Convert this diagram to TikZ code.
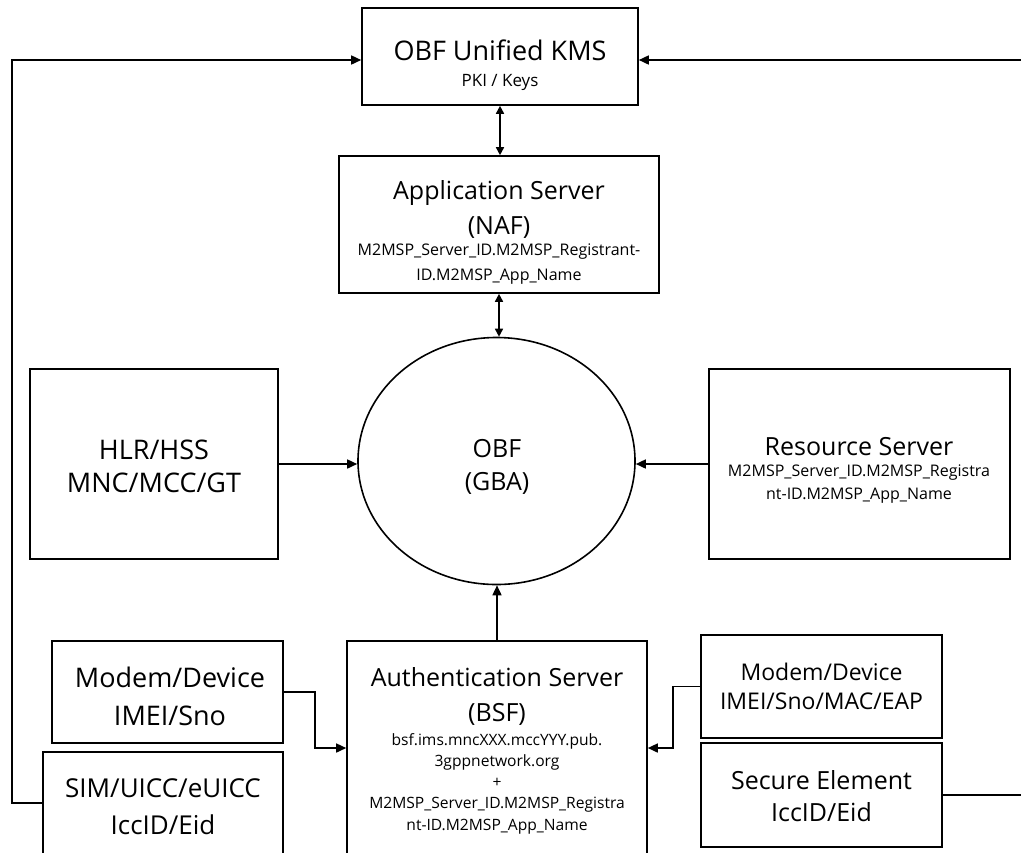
\documentclass[tikz,border=0pt]{standalone}
\usepackage{fontspec}
\setmainfont{Open Sans}
\usetikzlibrary{arrows.meta,shapes.geometric}
\begin{document}
\begin{tikzpicture}[x=0.5pt,y=-0.5pt,
	blk/.style={draw,line width=0.8pt,inner sep=0,minimum width=#1},
	txt/.style={align=center,inner sep=0},
	big/.style={txt,font=\fontsize{12.5}{17.5}\selectfont},
	sml/.style={txt,font=\fontsize{8}{12.5}\selectfont},
	arr/.style={line width=0.8pt,-{Triangle[length=5pt,width=4.5pt]}},
	dbl/.style={line width=0.8pt,{Triangle[length=4pt,width=4pt]}-{Triangle[length=4pt,width=4pt]}}]
\useasboundingbox (0,0) rectangle (1021,852);
\clip (0,0) rectangle (1021,852);
\node[blk=138pt,minimum height=48.5pt] (kms) at (500,56.5) {};
\node[big,font=\fontsize{13.5}{17.5}\selectfont] (kms-t) at (500,50) {OBF Unified KMS};
\node[sml,font=\fontsize{8.5}{12.5}\selectfont] (kms-s) at (500,82) {PKI / Keys};
\node[blk=160pt,minimum height=68.5pt] (naf) at (499,224.5) {};
\node[big] (naf-t) at (499,209.5) {Application Server\\(NAF)};
\node[sml] (naf-s) at (499,264.5) {M2MSP\_Server\_ID.M2MSP\_Registrant-\\ID.M2MSP\_App\_Name};
\node[ellipse,draw,line width=0.8pt,minimum width=138.5pt,minimum height=123.5pt,inner sep=0] (gba) at (496.5,461) {};
\node[big,font=\fontsize{12.5}{16.5}\selectfont] (gba-t) at (497,466.5) {OBF\\(GBA)};
\node[blk=124pt,minimum height=95pt] (hlr) at (154,464) {};
\node[big,font=\fontsize{13.5}{16.5}\selectfont] (hlr-t) at (154,466.5) {HLR/HSS\\MNC/MCC/GT};
\node[blk=150.5pt,minimum height=95pt] (res) at (859.5,464) {};
\node[big] (res-t) at (859,447) {Resource Server};
\node[sml,font=\fontsize{8}{11.5}\selectfont] (res-s) at (859,484.5) {M2MSP\_Server\_ID.M2MSP\_Registra\\nt-ID.M2MSP\_App\_Name};
\node[blk=150pt,minimum height=120pt] (bsf) at (497,761) {};
\node[big] (bsf-t) at (497,696.5) {Authentication Server\\(BSF)};
\node[sml,font=\fontsize{7.8}{10.6}\selectfont] (bsf-s) at (497,783.5) {bsf.ims.mncXXX.mccYYY.pub.\\3gppnetwork.org\\+\\M2MSP\_Server\_ID.M2MSP\_Registra\\nt-ID.M2MSP\_App\_Name};
\node[blk=115.5pt,minimum height=51pt] (mdl) at (167.5,692) {};
\node[big,font=\fontsize{13.5}{19}\selectfont] (mdl-t) at (170,696) {Modem/Device\\IMEI/Sno};
\node[blk=120pt,minimum height=51pt] (sim) at (163,803) {};
\node[big,font=\fontsize{13}{18.5}\selectfont] (sim-t) at (163,806.5) {SIM/UICC/eUICC\\IccID/Eid};
\node[blk=120.5pt,minimum height=51.5pt] (mdr) at (821.5,686.5) {};
\node[big,font=\fontsize{11.5}{14.5}\selectfont] (mdr-t) at (821.5,686.5) {Modem/Device\\IMEI/Sno/MAC/EAP};
\node[blk=120.5pt,minimum height=52pt] (se) at (821.5,795) {};
\node[big,font=\fontsize{12.5}{16}\selectfont] (se-t) at (821.5,796) {Secure Element\\IccID/Eid};
\coordinate (jl) at (315,748);
\coordinate (jr) at (673,748);
\coordinate (lt) at (12,60);
\coordinate (rt) at (1040,60);
\draw[dbl] (kms.south) -- (kms.south |- naf.north);
\draw[dbl] (naf.south) -- (naf.south |- gba.north);
\draw[arr] (hlr.east) -- (hlr.east -| gba.west);
\draw[arr] (res.west) -- (res.west -| gba.east);
\draw[arr] (bsf.north) -- (bsf.north |- gba.south);
\draw[arr] (mdl.east) -| (jl) -- (jl -| bsf.west);
\draw[arr] (mdr.west) -| (jr) -- (jr -| bsf.east);
\draw[arr] (sim.west) -| (lt) -- (lt -| kms.west);
\draw[arr] (se.east) -| (rt) -- (rt -| kms.east);
\end{tikzpicture}
\end{document}
